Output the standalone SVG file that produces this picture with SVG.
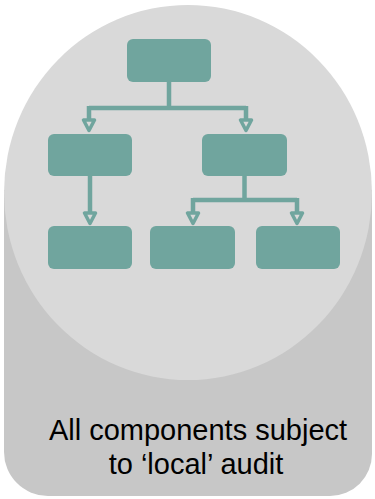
<svg xmlns="http://www.w3.org/2000/svg" width="375" height="499" viewBox="0 0 375 499">
<style>
.box{fill:#70a59e}
.ln{stroke:#70a59e;fill:none;stroke-width:4.5}
.ah{fill:#d9d9d9;stroke:#70a59e;stroke-width:3.5;stroke-linejoin:round}
.txt{font-family:"Liberation Sans",Arial,sans-serif;font-size:29px;fill:#000;text-anchor:middle}
</style>
<rect width="375" height="499" fill="#ffffff"/>
<g id="panel">
<path d="M4,190 H372 V454 A42,42 0 0 1 330,496 H48 A44,44 0 0 1 4,452 Z" fill="#c7c7c7"/>
<ellipse cx="188" cy="192.5" rx="184" ry="187.5" fill="#d9d9d9"/>
</g>
<g id="connectors">
<path class="ln" d="M169,82 V108 M89,108 H246 M89,106 V119 M246,106 V119"/>
<path class="ln" d="M90,176 V212"/>
<path class="ln" d="M244.5,176 V200 M193,200 H297 M193,198 V212 M297,198 V212"/>
<polygon class="ah" points="83.5,120 94.5,120 89,130.5"/>
<polygon class="ah" points="240.5,120 251.5,120 246,130.5"/>
<polygon class="ah" points="84.5,213 95.5,213 90,223.5"/>
<polygon class="ah" points="187.5,213 198.5,213 193,223.5"/>
<polygon class="ah" points="291.5,213 302.5,213 297,223.5"/>
</g>
<g id="n-root"><rect class="box" x="127" y="39" width="84" height="43" rx="6"/></g>
<g id="n-left"><rect class="box" x="48" y="134" width="84" height="42" rx="6"/></g>
<g id="n-right"><rect class="box" x="202" y="134" width="85" height="42" rx="6"/></g>
<g id="n-ll"><rect class="box" x="48" y="226" width="84" height="43" rx="6"/></g>
<g id="n-rl"><rect class="box" x="150" y="226" width="85" height="43" rx="6"/></g>
<g id="n-rr"><rect class="box" x="256" y="226" width="84" height="43" rx="6"/></g>
<g id="caption">
<text class="txt" x="198" y="440">All components subject</text>
<text class="txt" x="196" y="474">to ‘local’ audit</text>
</g>
</svg>
